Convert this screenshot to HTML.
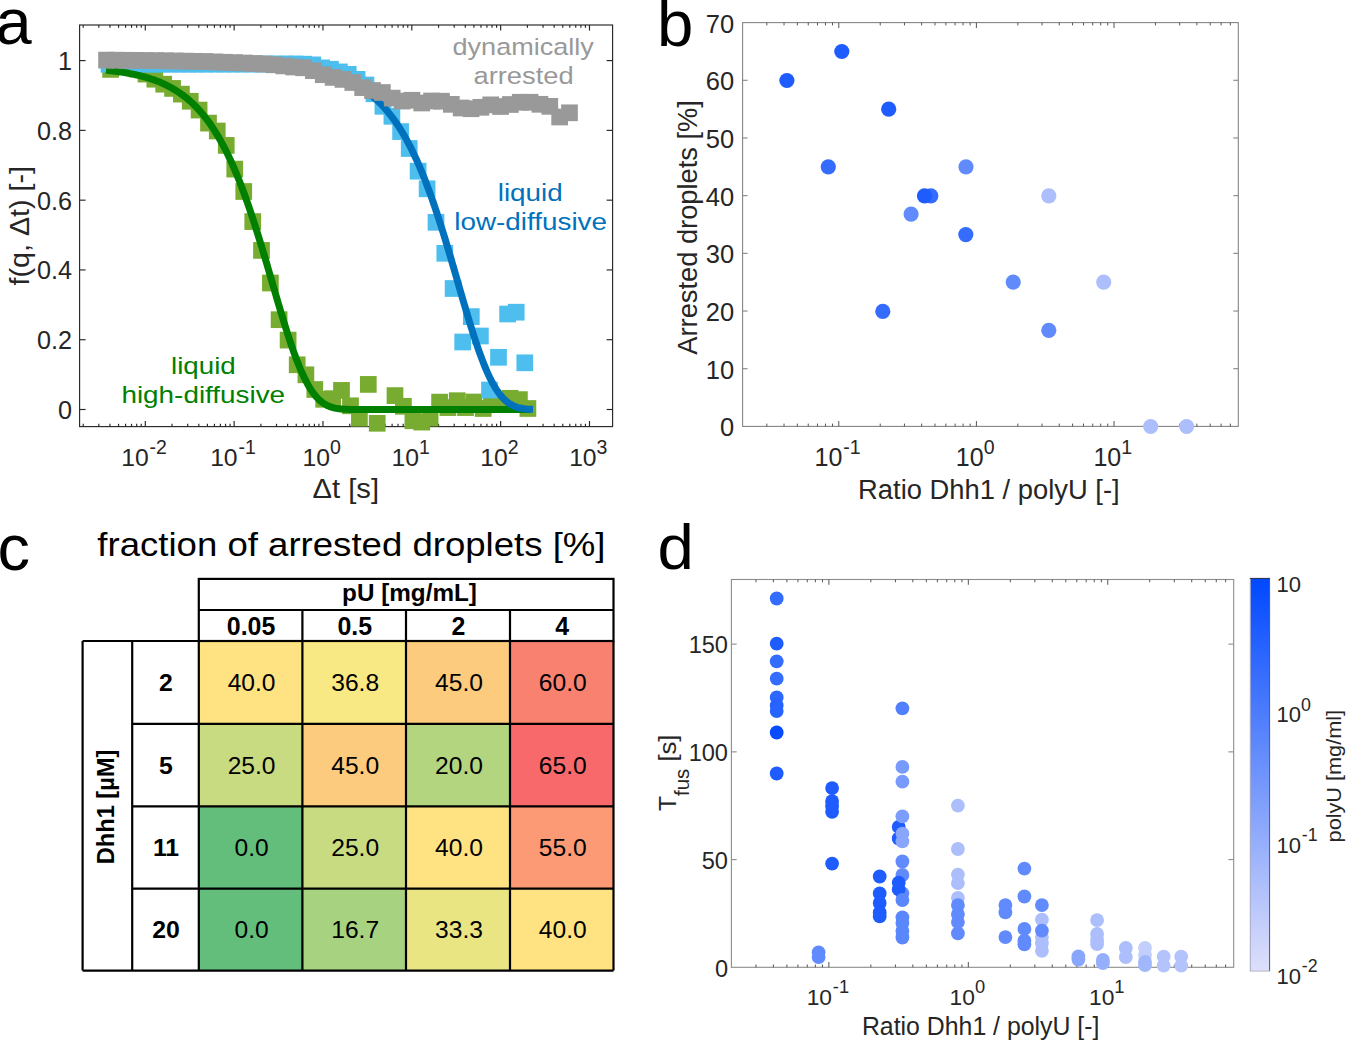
<!DOCTYPE html>
<html><head><meta charset="utf-8"><style>
html,body{margin:0;padding:0;background:#fff;overflow:hidden;}
svg{display:block;font-family:"Liberation Sans", sans-serif;}
</style></head><body>
<svg width="1346" height="1040" viewBox="0 0 1346 1040">
<rect width="1346" height="1040" fill="#fff"/>
<rect x="79.6" y="25" width="533" height="401.6" fill="none" stroke="#262626" stroke-width="1.15"/>
<line x1="83.2" y1="426.6" x2="83.2" y2="423.8" stroke="#262626" stroke-width="1.15"/>
<line x1="83.2" y1="25" x2="83.2" y2="27.8" stroke="#262626" stroke-width="1.15"/>
<line x1="98.85" y1="426.6" x2="98.85" y2="423.8" stroke="#262626" stroke-width="1.15"/>
<line x1="98.85" y1="25" x2="98.85" y2="27.8" stroke="#262626" stroke-width="1.15"/>
<line x1="109.95" y1="426.6" x2="109.95" y2="423.8" stroke="#262626" stroke-width="1.15"/>
<line x1="109.95" y1="25" x2="109.95" y2="27.8" stroke="#262626" stroke-width="1.15"/>
<line x1="118.56" y1="426.6" x2="118.56" y2="423.8" stroke="#262626" stroke-width="1.15"/>
<line x1="118.56" y1="25" x2="118.56" y2="27.8" stroke="#262626" stroke-width="1.15"/>
<line x1="125.59" y1="426.6" x2="125.59" y2="423.8" stroke="#262626" stroke-width="1.15"/>
<line x1="125.59" y1="25" x2="125.59" y2="27.8" stroke="#262626" stroke-width="1.15"/>
<line x1="131.54" y1="426.6" x2="131.54" y2="423.8" stroke="#262626" stroke-width="1.15"/>
<line x1="131.54" y1="25" x2="131.54" y2="27.8" stroke="#262626" stroke-width="1.15"/>
<line x1="136.69" y1="426.6" x2="136.69" y2="423.8" stroke="#262626" stroke-width="1.15"/>
<line x1="136.69" y1="25" x2="136.69" y2="27.8" stroke="#262626" stroke-width="1.15"/>
<line x1="141.23" y1="426.6" x2="141.23" y2="423.8" stroke="#262626" stroke-width="1.15"/>
<line x1="141.23" y1="25" x2="141.23" y2="27.8" stroke="#262626" stroke-width="1.15"/>
<line x1="145.3" y1="426.6" x2="145.3" y2="421" stroke="#262626" stroke-width="1.15"/>
<line x1="145.3" y1="25" x2="145.3" y2="30.6" stroke="#262626" stroke-width="1.15"/>
<line x1="172.04" y1="426.6" x2="172.04" y2="423.8" stroke="#262626" stroke-width="1.15"/>
<line x1="172.04" y1="25" x2="172.04" y2="27.8" stroke="#262626" stroke-width="1.15"/>
<line x1="187.69" y1="426.6" x2="187.69" y2="423.8" stroke="#262626" stroke-width="1.15"/>
<line x1="187.69" y1="25" x2="187.69" y2="27.8" stroke="#262626" stroke-width="1.15"/>
<line x1="198.79" y1="426.6" x2="198.79" y2="423.8" stroke="#262626" stroke-width="1.15"/>
<line x1="198.79" y1="25" x2="198.79" y2="27.8" stroke="#262626" stroke-width="1.15"/>
<line x1="207.4" y1="426.6" x2="207.4" y2="423.8" stroke="#262626" stroke-width="1.15"/>
<line x1="207.4" y1="25" x2="207.4" y2="27.8" stroke="#262626" stroke-width="1.15"/>
<line x1="214.43" y1="426.6" x2="214.43" y2="423.8" stroke="#262626" stroke-width="1.15"/>
<line x1="214.43" y1="25" x2="214.43" y2="27.8" stroke="#262626" stroke-width="1.15"/>
<line x1="220.38" y1="426.6" x2="220.38" y2="423.8" stroke="#262626" stroke-width="1.15"/>
<line x1="220.38" y1="25" x2="220.38" y2="27.8" stroke="#262626" stroke-width="1.15"/>
<line x1="225.53" y1="426.6" x2="225.53" y2="423.8" stroke="#262626" stroke-width="1.15"/>
<line x1="225.53" y1="25" x2="225.53" y2="27.8" stroke="#262626" stroke-width="1.15"/>
<line x1="230.07" y1="426.6" x2="230.07" y2="423.8" stroke="#262626" stroke-width="1.15"/>
<line x1="230.07" y1="25" x2="230.07" y2="27.8" stroke="#262626" stroke-width="1.15"/>
<line x1="234.14" y1="426.6" x2="234.14" y2="421" stroke="#262626" stroke-width="1.15"/>
<line x1="234.14" y1="25" x2="234.14" y2="30.6" stroke="#262626" stroke-width="1.15"/>
<line x1="260.88" y1="426.6" x2="260.88" y2="423.8" stroke="#262626" stroke-width="1.15"/>
<line x1="260.88" y1="25" x2="260.88" y2="27.8" stroke="#262626" stroke-width="1.15"/>
<line x1="276.53" y1="426.6" x2="276.53" y2="423.8" stroke="#262626" stroke-width="1.15"/>
<line x1="276.53" y1="25" x2="276.53" y2="27.8" stroke="#262626" stroke-width="1.15"/>
<line x1="287.63" y1="426.6" x2="287.63" y2="423.8" stroke="#262626" stroke-width="1.15"/>
<line x1="287.63" y1="25" x2="287.63" y2="27.8" stroke="#262626" stroke-width="1.15"/>
<line x1="296.24" y1="426.6" x2="296.24" y2="423.8" stroke="#262626" stroke-width="1.15"/>
<line x1="296.24" y1="25" x2="296.24" y2="27.8" stroke="#262626" stroke-width="1.15"/>
<line x1="303.27" y1="426.6" x2="303.27" y2="423.8" stroke="#262626" stroke-width="1.15"/>
<line x1="303.27" y1="25" x2="303.27" y2="27.8" stroke="#262626" stroke-width="1.15"/>
<line x1="309.22" y1="426.6" x2="309.22" y2="423.8" stroke="#262626" stroke-width="1.15"/>
<line x1="309.22" y1="25" x2="309.22" y2="27.8" stroke="#262626" stroke-width="1.15"/>
<line x1="314.37" y1="426.6" x2="314.37" y2="423.8" stroke="#262626" stroke-width="1.15"/>
<line x1="314.37" y1="25" x2="314.37" y2="27.8" stroke="#262626" stroke-width="1.15"/>
<line x1="318.91" y1="426.6" x2="318.91" y2="423.8" stroke="#262626" stroke-width="1.15"/>
<line x1="318.91" y1="25" x2="318.91" y2="27.8" stroke="#262626" stroke-width="1.15"/>
<line x1="322.98" y1="426.6" x2="322.98" y2="421" stroke="#262626" stroke-width="1.15"/>
<line x1="322.98" y1="25" x2="322.98" y2="30.6" stroke="#262626" stroke-width="1.15"/>
<line x1="349.72" y1="426.6" x2="349.72" y2="423.8" stroke="#262626" stroke-width="1.15"/>
<line x1="349.72" y1="25" x2="349.72" y2="27.8" stroke="#262626" stroke-width="1.15"/>
<line x1="365.37" y1="426.6" x2="365.37" y2="423.8" stroke="#262626" stroke-width="1.15"/>
<line x1="365.37" y1="25" x2="365.37" y2="27.8" stroke="#262626" stroke-width="1.15"/>
<line x1="376.47" y1="426.6" x2="376.47" y2="423.8" stroke="#262626" stroke-width="1.15"/>
<line x1="376.47" y1="25" x2="376.47" y2="27.8" stroke="#262626" stroke-width="1.15"/>
<line x1="385.08" y1="426.6" x2="385.08" y2="423.8" stroke="#262626" stroke-width="1.15"/>
<line x1="385.08" y1="25" x2="385.08" y2="27.8" stroke="#262626" stroke-width="1.15"/>
<line x1="392.11" y1="426.6" x2="392.11" y2="423.8" stroke="#262626" stroke-width="1.15"/>
<line x1="392.11" y1="25" x2="392.11" y2="27.8" stroke="#262626" stroke-width="1.15"/>
<line x1="398.06" y1="426.6" x2="398.06" y2="423.8" stroke="#262626" stroke-width="1.15"/>
<line x1="398.06" y1="25" x2="398.06" y2="27.8" stroke="#262626" stroke-width="1.15"/>
<line x1="403.21" y1="426.6" x2="403.21" y2="423.8" stroke="#262626" stroke-width="1.15"/>
<line x1="403.21" y1="25" x2="403.21" y2="27.8" stroke="#262626" stroke-width="1.15"/>
<line x1="407.75" y1="426.6" x2="407.75" y2="423.8" stroke="#262626" stroke-width="1.15"/>
<line x1="407.75" y1="25" x2="407.75" y2="27.8" stroke="#262626" stroke-width="1.15"/>
<line x1="411.82" y1="426.6" x2="411.82" y2="421" stroke="#262626" stroke-width="1.15"/>
<line x1="411.82" y1="25" x2="411.82" y2="30.6" stroke="#262626" stroke-width="1.15"/>
<line x1="438.56" y1="426.6" x2="438.56" y2="423.8" stroke="#262626" stroke-width="1.15"/>
<line x1="438.56" y1="25" x2="438.56" y2="27.8" stroke="#262626" stroke-width="1.15"/>
<line x1="454.21" y1="426.6" x2="454.21" y2="423.8" stroke="#262626" stroke-width="1.15"/>
<line x1="454.21" y1="25" x2="454.21" y2="27.8" stroke="#262626" stroke-width="1.15"/>
<line x1="465.31" y1="426.6" x2="465.31" y2="423.8" stroke="#262626" stroke-width="1.15"/>
<line x1="465.31" y1="25" x2="465.31" y2="27.8" stroke="#262626" stroke-width="1.15"/>
<line x1="473.92" y1="426.6" x2="473.92" y2="423.8" stroke="#262626" stroke-width="1.15"/>
<line x1="473.92" y1="25" x2="473.92" y2="27.8" stroke="#262626" stroke-width="1.15"/>
<line x1="480.95" y1="426.6" x2="480.95" y2="423.8" stroke="#262626" stroke-width="1.15"/>
<line x1="480.95" y1="25" x2="480.95" y2="27.8" stroke="#262626" stroke-width="1.15"/>
<line x1="486.9" y1="426.6" x2="486.9" y2="423.8" stroke="#262626" stroke-width="1.15"/>
<line x1="486.9" y1="25" x2="486.9" y2="27.8" stroke="#262626" stroke-width="1.15"/>
<line x1="492.05" y1="426.6" x2="492.05" y2="423.8" stroke="#262626" stroke-width="1.15"/>
<line x1="492.05" y1="25" x2="492.05" y2="27.8" stroke="#262626" stroke-width="1.15"/>
<line x1="496.59" y1="426.6" x2="496.59" y2="423.8" stroke="#262626" stroke-width="1.15"/>
<line x1="496.59" y1="25" x2="496.59" y2="27.8" stroke="#262626" stroke-width="1.15"/>
<line x1="500.66" y1="426.6" x2="500.66" y2="421" stroke="#262626" stroke-width="1.15"/>
<line x1="500.66" y1="25" x2="500.66" y2="30.6" stroke="#262626" stroke-width="1.15"/>
<line x1="527.4" y1="426.6" x2="527.4" y2="423.8" stroke="#262626" stroke-width="1.15"/>
<line x1="527.4" y1="25" x2="527.4" y2="27.8" stroke="#262626" stroke-width="1.15"/>
<line x1="543.05" y1="426.6" x2="543.05" y2="423.8" stroke="#262626" stroke-width="1.15"/>
<line x1="543.05" y1="25" x2="543.05" y2="27.8" stroke="#262626" stroke-width="1.15"/>
<line x1="554.15" y1="426.6" x2="554.15" y2="423.8" stroke="#262626" stroke-width="1.15"/>
<line x1="554.15" y1="25" x2="554.15" y2="27.8" stroke="#262626" stroke-width="1.15"/>
<line x1="562.76" y1="426.6" x2="562.76" y2="423.8" stroke="#262626" stroke-width="1.15"/>
<line x1="562.76" y1="25" x2="562.76" y2="27.8" stroke="#262626" stroke-width="1.15"/>
<line x1="569.79" y1="426.6" x2="569.79" y2="423.8" stroke="#262626" stroke-width="1.15"/>
<line x1="569.79" y1="25" x2="569.79" y2="27.8" stroke="#262626" stroke-width="1.15"/>
<line x1="575.74" y1="426.6" x2="575.74" y2="423.8" stroke="#262626" stroke-width="1.15"/>
<line x1="575.74" y1="25" x2="575.74" y2="27.8" stroke="#262626" stroke-width="1.15"/>
<line x1="580.89" y1="426.6" x2="580.89" y2="423.8" stroke="#262626" stroke-width="1.15"/>
<line x1="580.89" y1="25" x2="580.89" y2="27.8" stroke="#262626" stroke-width="1.15"/>
<line x1="585.43" y1="426.6" x2="585.43" y2="423.8" stroke="#262626" stroke-width="1.15"/>
<line x1="585.43" y1="25" x2="585.43" y2="27.8" stroke="#262626" stroke-width="1.15"/>
<line x1="589.5" y1="426.6" x2="589.5" y2="421" stroke="#262626" stroke-width="1.15"/>
<line x1="589.5" y1="25" x2="589.5" y2="30.6" stroke="#262626" stroke-width="1.15"/>
<line x1="79.6" y1="409.5" x2="85.6" y2="409.5" stroke="#262626" stroke-width="1.15"/>
<line x1="612.6" y1="409.5" x2="606.6" y2="409.5" stroke="#262626" stroke-width="1.15"/>
<line x1="79.6" y1="339.72" x2="85.6" y2="339.72" stroke="#262626" stroke-width="1.15"/>
<line x1="612.6" y1="339.72" x2="606.6" y2="339.72" stroke="#262626" stroke-width="1.15"/>
<line x1="79.6" y1="269.94" x2="85.6" y2="269.94" stroke="#262626" stroke-width="1.15"/>
<line x1="612.6" y1="269.94" x2="606.6" y2="269.94" stroke="#262626" stroke-width="1.15"/>
<line x1="79.6" y1="200.16" x2="85.6" y2="200.16" stroke="#262626" stroke-width="1.15"/>
<line x1="612.6" y1="200.16" x2="606.6" y2="200.16" stroke="#262626" stroke-width="1.15"/>
<line x1="79.6" y1="130.38" x2="85.6" y2="130.38" stroke="#262626" stroke-width="1.15"/>
<line x1="612.6" y1="130.38" x2="606.6" y2="130.38" stroke="#262626" stroke-width="1.15"/>
<line x1="79.6" y1="60.6" x2="85.6" y2="60.6" stroke="#262626" stroke-width="1.15"/>
<line x1="612.6" y1="60.6" x2="606.6" y2="60.6" stroke="#262626" stroke-width="1.15"/>
<rect x="742.6" y="22.6" width="495.7" height="403.8" fill="none" stroke="#858585" stroke-width="1.1"/>
<line x1="766.83" y1="426.4" x2="766.83" y2="423.6" stroke="#555" stroke-width="1.0"/>
<line x1="766.83" y1="22.6" x2="766.83" y2="25.4" stroke="#555" stroke-width="1.0"/>
<line x1="784.03" y1="426.4" x2="784.03" y2="423.6" stroke="#555" stroke-width="1.0"/>
<line x1="784.03" y1="22.6" x2="784.03" y2="25.4" stroke="#555" stroke-width="1.0"/>
<line x1="797.36" y1="426.4" x2="797.36" y2="423.6" stroke="#555" stroke-width="1.0"/>
<line x1="797.36" y1="22.6" x2="797.36" y2="25.4" stroke="#555" stroke-width="1.0"/>
<line x1="808.26" y1="426.4" x2="808.26" y2="423.6" stroke="#555" stroke-width="1.0"/>
<line x1="808.26" y1="22.6" x2="808.26" y2="25.4" stroke="#555" stroke-width="1.0"/>
<line x1="817.47" y1="426.4" x2="817.47" y2="423.6" stroke="#555" stroke-width="1.0"/>
<line x1="817.47" y1="22.6" x2="817.47" y2="25.4" stroke="#555" stroke-width="1.0"/>
<line x1="825.45" y1="426.4" x2="825.45" y2="423.6" stroke="#555" stroke-width="1.0"/>
<line x1="825.45" y1="22.6" x2="825.45" y2="25.4" stroke="#555" stroke-width="1.0"/>
<line x1="832.49" y1="426.4" x2="832.49" y2="423.6" stroke="#555" stroke-width="1.0"/>
<line x1="832.49" y1="22.6" x2="832.49" y2="25.4" stroke="#555" stroke-width="1.0"/>
<line x1="838.79" y1="426.4" x2="838.79" y2="421" stroke="#555" stroke-width="1.0"/>
<line x1="838.79" y1="22.6" x2="838.79" y2="28" stroke="#555" stroke-width="1.0"/>
<line x1="880.22" y1="426.4" x2="880.22" y2="423.6" stroke="#555" stroke-width="1.0"/>
<line x1="880.22" y1="22.6" x2="880.22" y2="25.4" stroke="#555" stroke-width="1.0"/>
<line x1="904.45" y1="426.4" x2="904.45" y2="423.6" stroke="#555" stroke-width="1.0"/>
<line x1="904.45" y1="22.6" x2="904.45" y2="25.4" stroke="#555" stroke-width="1.0"/>
<line x1="921.64" y1="426.4" x2="921.64" y2="423.6" stroke="#555" stroke-width="1.0"/>
<line x1="921.64" y1="22.6" x2="921.64" y2="25.4" stroke="#555" stroke-width="1.0"/>
<line x1="934.98" y1="426.4" x2="934.98" y2="423.6" stroke="#555" stroke-width="1.0"/>
<line x1="934.98" y1="22.6" x2="934.98" y2="25.4" stroke="#555" stroke-width="1.0"/>
<line x1="945.88" y1="426.4" x2="945.88" y2="423.6" stroke="#555" stroke-width="1.0"/>
<line x1="945.88" y1="22.6" x2="945.88" y2="25.4" stroke="#555" stroke-width="1.0"/>
<line x1="955.09" y1="426.4" x2="955.09" y2="423.6" stroke="#555" stroke-width="1.0"/>
<line x1="955.09" y1="22.6" x2="955.09" y2="25.4" stroke="#555" stroke-width="1.0"/>
<line x1="963.07" y1="426.4" x2="963.07" y2="423.6" stroke="#555" stroke-width="1.0"/>
<line x1="963.07" y1="22.6" x2="963.07" y2="25.4" stroke="#555" stroke-width="1.0"/>
<line x1="970.11" y1="426.4" x2="970.11" y2="423.6" stroke="#555" stroke-width="1.0"/>
<line x1="970.11" y1="22.6" x2="970.11" y2="25.4" stroke="#555" stroke-width="1.0"/>
<line x1="976.4" y1="426.4" x2="976.4" y2="421" stroke="#555" stroke-width="1.0"/>
<line x1="976.4" y1="22.6" x2="976.4" y2="28" stroke="#555" stroke-width="1.0"/>
<line x1="1017.83" y1="426.4" x2="1017.83" y2="423.6" stroke="#555" stroke-width="1.0"/>
<line x1="1017.83" y1="22.6" x2="1017.83" y2="25.4" stroke="#555" stroke-width="1.0"/>
<line x1="1042.06" y1="426.4" x2="1042.06" y2="423.6" stroke="#555" stroke-width="1.0"/>
<line x1="1042.06" y1="22.6" x2="1042.06" y2="25.4" stroke="#555" stroke-width="1.0"/>
<line x1="1059.26" y1="426.4" x2="1059.26" y2="423.6" stroke="#555" stroke-width="1.0"/>
<line x1="1059.26" y1="22.6" x2="1059.26" y2="25.4" stroke="#555" stroke-width="1.0"/>
<line x1="1072.59" y1="426.4" x2="1072.59" y2="423.6" stroke="#555" stroke-width="1.0"/>
<line x1="1072.59" y1="22.6" x2="1072.59" y2="25.4" stroke="#555" stroke-width="1.0"/>
<line x1="1083.49" y1="426.4" x2="1083.49" y2="423.6" stroke="#555" stroke-width="1.0"/>
<line x1="1083.49" y1="22.6" x2="1083.49" y2="25.4" stroke="#555" stroke-width="1.0"/>
<line x1="1092.7" y1="426.4" x2="1092.7" y2="423.6" stroke="#555" stroke-width="1.0"/>
<line x1="1092.7" y1="22.6" x2="1092.7" y2="25.4" stroke="#555" stroke-width="1.0"/>
<line x1="1100.68" y1="426.4" x2="1100.68" y2="423.6" stroke="#555" stroke-width="1.0"/>
<line x1="1100.68" y1="22.6" x2="1100.68" y2="25.4" stroke="#555" stroke-width="1.0"/>
<line x1="1107.72" y1="426.4" x2="1107.72" y2="423.6" stroke="#555" stroke-width="1.0"/>
<line x1="1107.72" y1="22.6" x2="1107.72" y2="25.4" stroke="#555" stroke-width="1.0"/>
<line x1="1114.02" y1="426.4" x2="1114.02" y2="421" stroke="#555" stroke-width="1.0"/>
<line x1="1114.02" y1="22.6" x2="1114.02" y2="28" stroke="#555" stroke-width="1.0"/>
<line x1="1155.45" y1="426.4" x2="1155.45" y2="423.6" stroke="#555" stroke-width="1.0"/>
<line x1="1155.45" y1="22.6" x2="1155.45" y2="25.4" stroke="#555" stroke-width="1.0"/>
<line x1="1179.68" y1="426.4" x2="1179.68" y2="423.6" stroke="#555" stroke-width="1.0"/>
<line x1="1179.68" y1="22.6" x2="1179.68" y2="25.4" stroke="#555" stroke-width="1.0"/>
<line x1="1196.87" y1="426.4" x2="1196.87" y2="423.6" stroke="#555" stroke-width="1.0"/>
<line x1="1196.87" y1="22.6" x2="1196.87" y2="25.4" stroke="#555" stroke-width="1.0"/>
<line x1="1210.21" y1="426.4" x2="1210.21" y2="423.6" stroke="#555" stroke-width="1.0"/>
<line x1="1210.21" y1="22.6" x2="1210.21" y2="25.4" stroke="#555" stroke-width="1.0"/>
<line x1="1221.11" y1="426.4" x2="1221.11" y2="423.6" stroke="#555" stroke-width="1.0"/>
<line x1="1221.11" y1="22.6" x2="1221.11" y2="25.4" stroke="#555" stroke-width="1.0"/>
<line x1="1230.32" y1="426.4" x2="1230.32" y2="423.6" stroke="#555" stroke-width="1.0"/>
<line x1="1230.32" y1="22.6" x2="1230.32" y2="25.4" stroke="#555" stroke-width="1.0"/>
<line x1="742.6" y1="368.71" x2="747.6" y2="368.71" stroke="#858585" stroke-width="1.1"/>
<line x1="1238.3" y1="368.71" x2="1233.3" y2="368.71" stroke="#858585" stroke-width="1.1"/>
<line x1="742.6" y1="311.03" x2="747.6" y2="311.03" stroke="#858585" stroke-width="1.1"/>
<line x1="1238.3" y1="311.03" x2="1233.3" y2="311.03" stroke="#858585" stroke-width="1.1"/>
<line x1="742.6" y1="253.34" x2="747.6" y2="253.34" stroke="#858585" stroke-width="1.1"/>
<line x1="1238.3" y1="253.34" x2="1233.3" y2="253.34" stroke="#858585" stroke-width="1.1"/>
<line x1="742.6" y1="195.66" x2="747.6" y2="195.66" stroke="#858585" stroke-width="1.1"/>
<line x1="1238.3" y1="195.66" x2="1233.3" y2="195.66" stroke="#858585" stroke-width="1.1"/>
<line x1="742.6" y1="137.97" x2="747.6" y2="137.97" stroke="#858585" stroke-width="1.1"/>
<line x1="1238.3" y1="137.97" x2="1233.3" y2="137.97" stroke="#858585" stroke-width="1.1"/>
<line x1="742.6" y1="80.29" x2="747.6" y2="80.29" stroke="#858585" stroke-width="1.1"/>
<line x1="1238.3" y1="80.29" x2="1233.3" y2="80.29" stroke="#858585" stroke-width="1.1"/>
<rect x="731.4" y="579.5" width="502.3" height="387.8" fill="none" stroke="#8c8c8c" stroke-width="1.1"/>
<line x1="755.96" y1="967.3" x2="755.96" y2="964.5" stroke="#555" stroke-width="1.0"/>
<line x1="755.96" y1="579.5" x2="755.96" y2="582.3" stroke="#555" stroke-width="1.0"/>
<line x1="773.38" y1="967.3" x2="773.38" y2="964.5" stroke="#555" stroke-width="1.0"/>
<line x1="773.38" y1="579.5" x2="773.38" y2="582.3" stroke="#555" stroke-width="1.0"/>
<line x1="786.89" y1="967.3" x2="786.89" y2="964.5" stroke="#555" stroke-width="1.0"/>
<line x1="786.89" y1="579.5" x2="786.89" y2="582.3" stroke="#555" stroke-width="1.0"/>
<line x1="797.93" y1="967.3" x2="797.93" y2="964.5" stroke="#555" stroke-width="1.0"/>
<line x1="797.93" y1="579.5" x2="797.93" y2="582.3" stroke="#555" stroke-width="1.0"/>
<line x1="807.27" y1="967.3" x2="807.27" y2="964.5" stroke="#555" stroke-width="1.0"/>
<line x1="807.27" y1="579.5" x2="807.27" y2="582.3" stroke="#555" stroke-width="1.0"/>
<line x1="815.36" y1="967.3" x2="815.36" y2="964.5" stroke="#555" stroke-width="1.0"/>
<line x1="815.36" y1="579.5" x2="815.36" y2="582.3" stroke="#555" stroke-width="1.0"/>
<line x1="822.49" y1="967.3" x2="822.49" y2="964.5" stroke="#555" stroke-width="1.0"/>
<line x1="822.49" y1="579.5" x2="822.49" y2="582.3" stroke="#555" stroke-width="1.0"/>
<line x1="828.87" y1="967.3" x2="828.87" y2="962" stroke="#555" stroke-width="1.0"/>
<line x1="828.87" y1="579.5" x2="828.87" y2="584.8" stroke="#555" stroke-width="1.0"/>
<line x1="870.85" y1="967.3" x2="870.85" y2="964.5" stroke="#555" stroke-width="1.0"/>
<line x1="870.85" y1="579.5" x2="870.85" y2="582.3" stroke="#555" stroke-width="1.0"/>
<line x1="895.4" y1="967.3" x2="895.4" y2="964.5" stroke="#555" stroke-width="1.0"/>
<line x1="895.4" y1="579.5" x2="895.4" y2="582.3" stroke="#555" stroke-width="1.0"/>
<line x1="912.83" y1="967.3" x2="912.83" y2="964.5" stroke="#555" stroke-width="1.0"/>
<line x1="912.83" y1="579.5" x2="912.83" y2="582.3" stroke="#555" stroke-width="1.0"/>
<line x1="926.34" y1="967.3" x2="926.34" y2="964.5" stroke="#555" stroke-width="1.0"/>
<line x1="926.34" y1="579.5" x2="926.34" y2="582.3" stroke="#555" stroke-width="1.0"/>
<line x1="937.38" y1="967.3" x2="937.38" y2="964.5" stroke="#555" stroke-width="1.0"/>
<line x1="937.38" y1="579.5" x2="937.38" y2="582.3" stroke="#555" stroke-width="1.0"/>
<line x1="946.72" y1="967.3" x2="946.72" y2="964.5" stroke="#555" stroke-width="1.0"/>
<line x1="946.72" y1="579.5" x2="946.72" y2="582.3" stroke="#555" stroke-width="1.0"/>
<line x1="954.8" y1="967.3" x2="954.8" y2="964.5" stroke="#555" stroke-width="1.0"/>
<line x1="954.8" y1="579.5" x2="954.8" y2="582.3" stroke="#555" stroke-width="1.0"/>
<line x1="961.94" y1="967.3" x2="961.94" y2="964.5" stroke="#555" stroke-width="1.0"/>
<line x1="961.94" y1="579.5" x2="961.94" y2="582.3" stroke="#555" stroke-width="1.0"/>
<line x1="968.32" y1="967.3" x2="968.32" y2="962" stroke="#555" stroke-width="1.0"/>
<line x1="968.32" y1="579.5" x2="968.32" y2="584.8" stroke="#555" stroke-width="1.0"/>
<line x1="1010.3" y1="967.3" x2="1010.3" y2="964.5" stroke="#555" stroke-width="1.0"/>
<line x1="1010.3" y1="579.5" x2="1010.3" y2="582.3" stroke="#555" stroke-width="1.0"/>
<line x1="1034.85" y1="967.3" x2="1034.85" y2="964.5" stroke="#555" stroke-width="1.0"/>
<line x1="1034.85" y1="579.5" x2="1034.85" y2="582.3" stroke="#555" stroke-width="1.0"/>
<line x1="1052.27" y1="967.3" x2="1052.27" y2="964.5" stroke="#555" stroke-width="1.0"/>
<line x1="1052.27" y1="579.5" x2="1052.27" y2="582.3" stroke="#555" stroke-width="1.0"/>
<line x1="1065.79" y1="967.3" x2="1065.79" y2="964.5" stroke="#555" stroke-width="1.0"/>
<line x1="1065.79" y1="579.5" x2="1065.79" y2="582.3" stroke="#555" stroke-width="1.0"/>
<line x1="1076.83" y1="967.3" x2="1076.83" y2="964.5" stroke="#555" stroke-width="1.0"/>
<line x1="1076.83" y1="579.5" x2="1076.83" y2="582.3" stroke="#555" stroke-width="1.0"/>
<line x1="1086.17" y1="967.3" x2="1086.17" y2="964.5" stroke="#555" stroke-width="1.0"/>
<line x1="1086.17" y1="579.5" x2="1086.17" y2="582.3" stroke="#555" stroke-width="1.0"/>
<line x1="1094.25" y1="967.3" x2="1094.25" y2="964.5" stroke="#555" stroke-width="1.0"/>
<line x1="1094.25" y1="579.5" x2="1094.25" y2="582.3" stroke="#555" stroke-width="1.0"/>
<line x1="1101.39" y1="967.3" x2="1101.39" y2="964.5" stroke="#555" stroke-width="1.0"/>
<line x1="1101.39" y1="579.5" x2="1101.39" y2="582.3" stroke="#555" stroke-width="1.0"/>
<line x1="1107.77" y1="967.3" x2="1107.77" y2="962" stroke="#555" stroke-width="1.0"/>
<line x1="1107.77" y1="579.5" x2="1107.77" y2="584.8" stroke="#555" stroke-width="1.0"/>
<line x1="1149.74" y1="967.3" x2="1149.74" y2="964.5" stroke="#555" stroke-width="1.0"/>
<line x1="1149.74" y1="579.5" x2="1149.74" y2="582.3" stroke="#555" stroke-width="1.0"/>
<line x1="1174.3" y1="967.3" x2="1174.3" y2="964.5" stroke="#555" stroke-width="1.0"/>
<line x1="1174.3" y1="579.5" x2="1174.3" y2="582.3" stroke="#555" stroke-width="1.0"/>
<line x1="1191.72" y1="967.3" x2="1191.72" y2="964.5" stroke="#555" stroke-width="1.0"/>
<line x1="1191.72" y1="579.5" x2="1191.72" y2="582.3" stroke="#555" stroke-width="1.0"/>
<line x1="1205.24" y1="967.3" x2="1205.24" y2="964.5" stroke="#555" stroke-width="1.0"/>
<line x1="1205.24" y1="579.5" x2="1205.24" y2="582.3" stroke="#555" stroke-width="1.0"/>
<line x1="1216.28" y1="967.3" x2="1216.28" y2="964.5" stroke="#555" stroke-width="1.0"/>
<line x1="1216.28" y1="579.5" x2="1216.28" y2="582.3" stroke="#555" stroke-width="1.0"/>
<line x1="1225.61" y1="967.3" x2="1225.61" y2="964.5" stroke="#555" stroke-width="1.0"/>
<line x1="1225.61" y1="579.5" x2="1225.61" y2="582.3" stroke="#555" stroke-width="1.0"/>
<line x1="731.4" y1="859.58" x2="736.7" y2="859.58" stroke="#8c8c8c" stroke-width="1.1"/>
<line x1="1233.7" y1="859.58" x2="1228.4" y2="859.58" stroke="#8c8c8c" stroke-width="1.1"/>
<line x1="731.4" y1="751.86" x2="736.7" y2="751.86" stroke="#8c8c8c" stroke-width="1.1"/>
<line x1="1233.7" y1="751.86" x2="1228.4" y2="751.86" stroke="#8c8c8c" stroke-width="1.1"/>
<line x1="731.4" y1="644.13" x2="736.7" y2="644.13" stroke="#8c8c8c" stroke-width="1.1"/>
<line x1="1233.7" y1="644.13" x2="1228.4" y2="644.13" stroke="#8c8c8c" stroke-width="1.1"/>
<rect x="102.25" y="61.05" width="16.7" height="16.7" fill="#77ac30"/>
<rect x="111.1" y="57.45" width="16.7" height="16.7" fill="#77ac30"/>
<rect x="119.95" y="57.45" width="16.7" height="16.7" fill="#77ac30"/>
<rect x="128.8" y="60.75" width="16.7" height="16.7" fill="#77ac30"/>
<rect x="137.65" y="65.75" width="16.7" height="16.7" fill="#77ac30"/>
<rect x="146.5" y="70.85" width="16.7" height="16.7" fill="#77ac30"/>
<rect x="155.35" y="75.85" width="16.7" height="16.7" fill="#77ac30"/>
<rect x="164.2" y="80.07" width="16.7" height="16.7" fill="#77ac30"/>
<rect x="173.05" y="85.78" width="16.7" height="16.7" fill="#77ac30"/>
<rect x="181.9" y="92.9" width="16.7" height="16.7" fill="#77ac30"/>
<rect x="190.75" y="101.74" width="16.7" height="16.7" fill="#77ac30"/>
<rect x="200.15" y="114.75" width="16.7" height="16.7" fill="#77ac30"/>
<rect x="208.9" y="122.65" width="16.7" height="16.7" fill="#77ac30"/>
<rect x="217.9" y="137.05" width="16.7" height="16.7" fill="#77ac30"/>
<rect x="226.4" y="160.75" width="16.7" height="16.7" fill="#77ac30"/>
<rect x="235.4" y="183.15" width="16.7" height="16.7" fill="#77ac30"/>
<rect x="244.4" y="213.25" width="16.7" height="16.7" fill="#77ac30"/>
<rect x="253.15" y="242.05" width="16.7" height="16.7" fill="#77ac30"/>
<rect x="262.05" y="274.65" width="16.7" height="16.7" fill="#77ac30"/>
<rect x="270.75" y="311.35" width="16.7" height="16.7" fill="#77ac30"/>
<rect x="279.75" y="331.75" width="16.7" height="16.7" fill="#77ac30"/>
<rect x="288.85" y="356.45" width="16.7" height="16.7" fill="#77ac30"/>
<rect x="297.55" y="366.45" width="16.7" height="16.7" fill="#77ac30"/>
<rect x="306.45" y="381.15" width="16.7" height="16.7" fill="#77ac30"/>
<rect x="315.35" y="390.95" width="16.7" height="16.7" fill="#77ac30"/>
<rect x="324.25" y="390.35" width="16.7" height="16.7" fill="#77ac30"/>
<rect x="333.15" y="382.05" width="16.7" height="16.7" fill="#77ac30"/>
<rect x="342.15" y="397.45" width="16.7" height="16.7" fill="#77ac30"/>
<rect x="351.05" y="409.85" width="16.7" height="16.7" fill="#77ac30"/>
<rect x="359.95" y="376.05" width="16.7" height="16.7" fill="#77ac30"/>
<rect x="368.85" y="414.95" width="16.7" height="16.7" fill="#77ac30"/>
<rect x="386.65" y="387.25" width="16.7" height="16.7" fill="#77ac30"/>
<rect x="395.05" y="397.95" width="16.7" height="16.7" fill="#77ac30"/>
<rect x="404.55" y="412.45" width="16.7" height="16.7" fill="#77ac30"/>
<rect x="413.45" y="413.75" width="16.7" height="16.7" fill="#77ac30"/>
<rect x="421.75" y="409.65" width="16.7" height="16.7" fill="#77ac30"/>
<rect x="431.25" y="393.75" width="16.7" height="16.7" fill="#77ac30"/>
<rect x="439.55" y="399.25" width="16.7" height="16.7" fill="#77ac30"/>
<rect x="448.85" y="392.35" width="16.7" height="16.7" fill="#77ac30"/>
<rect x="457.15" y="399.25" width="16.7" height="16.7" fill="#77ac30"/>
<rect x="465.55" y="393.65" width="16.7" height="16.7" fill="#77ac30"/>
<rect x="474.85" y="400.15" width="16.7" height="16.7" fill="#77ac30"/>
<rect x="483.15" y="393.65" width="16.7" height="16.7" fill="#77ac30"/>
<rect x="492.45" y="394.65" width="16.7" height="16.7" fill="#77ac30"/>
<rect x="501.75" y="389.95" width="16.7" height="16.7" fill="#77ac30"/>
<rect x="511.05" y="391.25" width="16.7" height="16.7" fill="#77ac30"/>
<rect x="519.55" y="400.15" width="16.7" height="16.7" fill="#77ac30"/>
<rect x="100.65" y="55.85" width="16.7" height="16.7" fill="#4dbeee"/>
<rect x="109.51" y="55.84" width="16.7" height="16.7" fill="#4dbeee"/>
<rect x="118.37" y="55.83" width="16.7" height="16.7" fill="#4dbeee"/>
<rect x="127.23" y="55.82" width="16.7" height="16.7" fill="#4dbeee"/>
<rect x="136.09" y="55.81" width="16.7" height="16.7" fill="#4dbeee"/>
<rect x="144.95" y="55.8" width="16.7" height="16.7" fill="#4dbeee"/>
<rect x="153.81" y="55.79" width="16.7" height="16.7" fill="#4dbeee"/>
<rect x="162.67" y="55.78" width="16.7" height="16.7" fill="#4dbeee"/>
<rect x="171.53" y="55.77" width="16.7" height="16.7" fill="#4dbeee"/>
<rect x="180.39" y="55.76" width="16.7" height="16.7" fill="#4dbeee"/>
<rect x="189.25" y="55.76" width="16.7" height="16.7" fill="#4dbeee"/>
<rect x="198.11" y="55.75" width="16.7" height="16.7" fill="#4dbeee"/>
<rect x="206.97" y="55.74" width="16.7" height="16.7" fill="#4dbeee"/>
<rect x="215.83" y="55.73" width="16.7" height="16.7" fill="#4dbeee"/>
<rect x="224.69" y="55.72" width="16.7" height="16.7" fill="#4dbeee"/>
<rect x="233.55" y="55.71" width="16.7" height="16.7" fill="#4dbeee"/>
<rect x="242.41" y="55.7" width="16.7" height="16.7" fill="#4dbeee"/>
<rect x="251.27" y="55.69" width="16.7" height="16.7" fill="#4dbeee"/>
<rect x="260.13" y="55.68" width="16.7" height="16.7" fill="#4dbeee"/>
<rect x="268.99" y="55.67" width="16.7" height="16.7" fill="#4dbeee"/>
<rect x="277.85" y="55.66" width="16.7" height="16.7" fill="#4dbeee"/>
<rect x="286.71" y="55.66" width="16.7" height="16.7" fill="#4dbeee"/>
<rect x="295.57" y="55.82" width="16.7" height="16.7" fill="#4dbeee"/>
<rect x="304.43" y="56.52" width="16.7" height="16.7" fill="#4dbeee"/>
<rect x="313.29" y="59.54" width="16.7" height="16.7" fill="#4dbeee"/>
<rect x="322.15" y="60.92" width="16.7" height="16.7" fill="#4dbeee"/>
<rect x="331.01" y="63.54" width="16.7" height="16.7" fill="#4dbeee"/>
<rect x="339.87" y="65.95" width="16.7" height="16.7" fill="#4dbeee"/>
<rect x="348.73" y="71.01" width="16.7" height="16.7" fill="#4dbeee"/>
<rect x="357.59" y="76.65" width="16.7" height="16.7" fill="#4dbeee"/>
<rect x="365.65" y="85.45" width="16.7" height="16.7" fill="#4dbeee"/>
<rect x="374.55" y="97.95" width="16.7" height="16.7" fill="#4dbeee"/>
<rect x="383.55" y="107.95" width="16.7" height="16.7" fill="#4dbeee"/>
<rect x="392.25" y="123.25" width="16.7" height="16.7" fill="#4dbeee"/>
<rect x="400.85" y="140.15" width="16.7" height="16.7" fill="#4dbeee"/>
<rect x="409.75" y="162.85" width="16.7" height="16.7" fill="#4dbeee"/>
<rect x="418.75" y="180.45" width="16.7" height="16.7" fill="#4dbeee"/>
<rect x="427.65" y="213.95" width="16.7" height="16.7" fill="#4dbeee"/>
<rect x="436.45" y="244.95" width="16.7" height="16.7" fill="#4dbeee"/>
<rect x="444.75" y="280.15" width="16.7" height="16.7" fill="#4dbeee"/>
<rect x="454.35" y="333.65" width="16.7" height="16.7" fill="#4dbeee"/>
<rect x="462.95" y="308.25" width="16.7" height="16.7" fill="#4dbeee"/>
<rect x="472.05" y="327.65" width="16.7" height="16.7" fill="#4dbeee"/>
<rect x="481.15" y="381.65" width="16.7" height="16.7" fill="#4dbeee"/>
<rect x="490.15" y="348.95" width="16.7" height="16.7" fill="#4dbeee"/>
<rect x="499.25" y="305.65" width="16.7" height="16.7" fill="#4dbeee"/>
<rect x="507.85" y="303.85" width="16.7" height="16.7" fill="#4dbeee"/>
<rect x="516.45" y="354.45" width="16.7" height="16.7" fill="#4dbeee"/>
<path d="M106,70.21 L107.41,70.35 L108.83,70.5 L110.24,70.66 L111.65,70.82 L113.07,70.98 L114.48,71.16 L115.89,71.34 L117.31,71.52 L118.72,71.72 L120.13,71.92 L121.55,72.13 L122.96,72.35 L124.37,72.57 L125.79,72.81 L127.2,73.05 L128.61,73.3 L130.03,73.57 L131.44,73.84 L132.85,74.12 L134.27,74.42 L135.68,74.72 L137.09,75.04 L138.51,75.37 L139.92,75.71 L141.33,76.07 L142.75,76.44 L144.16,76.82 L145.57,77.21 L146.99,77.63 L148.4,78.05 L149.81,78.5 L151.23,78.96 L152.64,79.44 L154.05,79.93 L155.47,80.45 L156.88,80.98 L158.29,81.54 L159.71,82.11 L161.12,82.71 L162.53,83.33 L163.95,83.97 L165.36,84.63 L166.77,85.32 L168.19,86.04 L169.6,86.78 L171.01,87.55 L172.43,88.35 L173.84,89.17 L175.25,90.03 L176.67,90.92 L178.08,91.84 L179.49,92.79 L180.91,93.78 L182.32,94.8 L183.73,95.86 L185.15,96.96 L186.56,98.09 L187.97,99.27 L189.39,100.49 L190.8,101.75 L192.21,103.05 L193.63,104.4 L195.04,105.8 L196.45,107.25 L197.87,108.74 L199.28,110.28 L200.69,111.88 L202.11,113.53 L203.52,115.24 L204.93,117 L206.35,118.82 L207.76,120.7 L209.17,122.64 L210.59,124.64 L212,126.71 L213.41,128.84 L214.83,131.04 L216.24,133.3 L217.65,135.64 L219.07,138.04 L220.48,140.52 L221.89,143.07 L223.31,145.7 L224.72,148.4 L226.13,151.18 L227.55,154.03 L228.96,156.96 L230.37,159.98 L231.79,163.07 L233.2,166.24 L234.61,169.5 L236.03,172.84 L237.44,176.25 L238.85,179.75 L240.27,183.33 L241.68,187 L243.09,190.74 L244.51,194.56 L245.92,198.47 L247.33,202.45 L248.75,206.5 L250.16,210.64 L251.57,214.84 L252.99,219.12 L254.4,223.46 L255.81,227.87 L257.23,232.34 L258.64,236.87 L260.05,241.46 L261.47,246.09 L262.88,250.77 L264.29,255.5 L265.71,260.26 L267.12,265.05 L268.53,269.86 L269.95,274.7 L271.36,279.54 L272.77,284.4 L274.19,289.25 L275.6,294.09 L277.01,298.91 L278.43,303.71 L279.84,308.48 L281.25,313.21 L282.67,317.89 L284.08,322.51 L285.49,327.07 L286.91,331.55 L288.32,335.95 L289.73,340.26 L291.15,344.47 L292.56,348.57 L293.97,352.56 L295.39,356.44 L296.8,360.18 L298.21,363.79 L299.63,367.26 L301.04,370.59 L302.45,373.78 L303.87,376.81 L305.28,379.69 L306.69,382.41 L308.11,384.98 L309.52,387.39 L310.93,389.64 L312.35,391.74 L313.76,393.69 L315.17,395.48 L316.59,397.14 L318,398.65 L319.41,400.02 L320.83,401.26 L322.24,402.39 L323.65,403.39 L325.07,404.28 L326.48,405.07 L327.89,405.77 L329.31,406.37 L330.72,406.9 L332.13,407.35 L333.55,407.74 L334.96,408.07 L336.37,408.34 L337.79,408.58 L339.2,408.77 L340.61,408.92 L342.03,409.05 L343.44,409.15 L344.85,409.24 L346.27,409.3 L347.68,409.35 L349.09,409.39 L350.51,409.42 L351.92,409.44 L353.33,409.46 L354.75,409.47 L356.16,409.48 L357.57,409.49 L358.99,409.49 L360.4,409.49 L361.81,409.5 L363.23,409.5 L364.64,409.5 L366.05,409.5 L367.47,409.5 L368.88,409.5 L370.29,409.5 L371.71,409.5 L373.12,409.5 L374.53,409.5 L375.95,409.5 L377.36,409.5 L378.77,409.5 L380.19,409.5 L381.6,409.5 L383.01,409.5 L384.43,409.5 L385.84,409.5 L387.25,409.5 L388.67,409.5 L390.08,409.5 L391.49,409.5 L392.91,409.5 L394.32,409.5 L395.73,409.5 L397.15,409.5 L398.56,409.5 L399.97,409.5 L401.39,409.5 L402.8,409.5 L404.21,409.5 L405.63,409.5 L407.04,409.5 L408.45,409.5 L409.87,409.5 L411.28,409.5 L412.69,409.5 L414.11,409.5 L415.52,409.5 L416.93,409.5 L418.35,409.5 L419.76,409.5 L421.17,409.5 L422.59,409.5 L424,409.5 L425.41,409.5 L426.83,409.5 L428.24,409.5 L429.65,409.5 L431.07,409.5 L432.48,409.5 L433.89,409.5 L435.31,409.5 L436.72,409.5 L438.13,409.5 L439.55,409.5 L440.96,409.5 L442.37,409.5 L443.79,409.5 L445.2,409.5 L446.61,409.5 L448.03,409.5 L449.44,409.5 L450.85,409.5 L452.27,409.5 L453.68,409.5 L455.09,409.5 L456.51,409.5 L457.92,409.5 L459.33,409.5 L460.75,409.5 L462.16,409.5 L463.57,409.5 L464.99,409.5 L466.4,409.5 L467.81,409.5 L469.23,409.5 L470.64,409.5 L472.05,409.5 L473.47,409.5 L474.88,409.5 L476.29,409.5 L477.71,409.5 L479.12,409.5 L480.53,409.5 L481.95,409.5 L483.36,409.5 L484.77,409.5 L486.19,409.5 L487.6,409.5 L489.01,409.5 L490.43,409.5 L491.84,409.5 L493.25,409.5 L494.67,409.5 L496.08,409.5 L497.49,409.5 L498.91,409.5 L500.32,409.5 L501.73,409.5 L503.15,409.5 L504.56,409.5 L505.97,409.5 L507.39,409.5 L508.8,409.5 L510.21,409.5 L511.63,409.5 L513.04,409.5 L514.45,409.5 L515.87,409.5 L517.28,409.5 L518.69,409.5 L520.11,409.5 L521.52,409.5 L522.93,409.5 L524.35,409.5 L525.76,409.5 L527.17,409.5 L528.59,409.5 L530,409.5" fill="none" stroke="#008000" stroke-width="7" stroke-linejoin="round"/>
<path d="M106,64.11 L107.42,64.11 L108.85,64.11 L110.27,64.12 L111.69,64.12 L113.12,64.12 L114.54,64.12 L115.96,64.12 L117.39,64.12 L118.81,64.12 L120.23,64.12 L121.66,64.13 L123.08,64.13 L124.5,64.13 L125.93,64.13 L127.35,64.13 L128.77,64.13 L130.2,64.14 L131.62,64.14 L133.04,64.14 L134.47,64.14 L135.89,64.14 L137.31,64.15 L138.74,64.15 L140.16,64.15 L141.58,64.15 L143.01,64.15 L144.43,64.16 L145.85,64.16 L147.28,64.16 L148.7,64.17 L150.12,64.17 L151.55,64.17 L152.97,64.17 L154.39,64.18 L155.82,64.18 L157.24,64.19 L158.66,64.19 L160.09,64.19 L161.51,64.2 L162.93,64.2 L164.36,64.21 L165.78,64.21 L167.2,64.22 L168.63,64.22 L170.05,64.23 L171.47,64.23 L172.9,64.24 L174.32,64.24 L175.74,64.25 L177.17,64.26 L178.59,64.26 L180.01,64.27 L181.44,64.28 L182.86,64.28 L184.28,64.29 L185.71,64.3 L187.13,64.31 L188.55,64.32 L189.98,64.32 L191.4,64.33 L192.82,64.34 L194.25,64.35 L195.67,64.36 L197.09,64.37 L198.52,64.39 L199.94,64.4 L201.36,64.41 L202.79,64.42 L204.21,64.44 L205.63,64.45 L207.06,64.46 L208.48,64.48 L209.9,64.49 L211.33,64.51 L212.75,64.53 L214.17,64.54 L215.6,64.56 L217.02,64.58 L218.44,64.6 L219.87,64.62 L221.29,64.64 L222.71,64.66 L224.14,64.69 L225.56,64.71 L226.98,64.73 L228.41,64.76 L229.83,64.78 L231.25,64.81 L232.68,64.84 L234.1,64.87 L235.52,64.9 L236.95,64.93 L238.37,64.97 L239.79,65 L241.22,65.04 L242.64,65.07 L244.06,65.11 L245.49,65.15 L246.91,65.2 L248.33,65.24 L249.76,65.28 L251.18,65.33 L252.6,65.38 L254.03,65.43 L255.45,65.48 L256.87,65.54 L258.3,65.6 L259.72,65.66 L261.14,65.72 L262.57,65.78 L263.99,65.85 L265.41,65.92 L266.84,65.99 L268.26,66.07 L269.68,66.14 L271.11,66.22 L272.53,66.31 L273.95,66.4 L275.38,66.49 L276.8,66.58 L278.22,66.68 L279.65,66.78 L281.07,66.89 L282.49,67 L283.92,67.11 L285.34,67.23 L286.76,67.35 L288.19,67.48 L289.61,67.61 L291.03,67.75 L292.46,67.9 L293.88,68.05 L295.3,68.2 L296.73,68.36 L298.15,68.53 L299.57,68.71 L301,68.89 L302.42,69.07 L303.84,69.27 L305.27,69.47 L306.69,69.68 L308.11,69.9 L309.54,70.13 L310.96,70.37 L312.38,70.61 L313.81,70.87 L315.23,71.13 L316.65,71.41 L318.08,71.69 L319.5,71.99 L320.92,72.3 L322.35,72.62 L323.77,72.95 L325.19,73.3 L326.62,73.66 L328.04,74.03 L329.46,74.42 L330.89,74.82 L332.31,75.23 L333.73,75.67 L335.16,76.12 L336.58,76.58 L338,77.07 L339.43,77.57 L340.85,78.09 L342.27,78.63 L343.7,79.19 L345.12,79.78 L346.54,80.38 L347.97,81.01 L349.39,81.66 L350.81,82.33 L352.24,83.03 L353.66,83.76 L355.08,84.51 L356.51,85.3 L357.93,86.11 L359.35,86.95 L360.78,87.82 L362.2,88.72 L363.62,89.66 L365.05,90.63 L366.47,91.63 L367.89,92.67 L369.32,93.75 L370.74,94.87 L372.16,96.03 L373.59,97.23 L375.01,98.47 L376.43,99.75 L377.86,101.08 L379.28,102.46 L380.7,103.88 L382.13,105.36 L383.55,106.88 L384.97,108.46 L386.4,110.09 L387.82,111.77 L389.24,113.52 L390.67,115.32 L392.09,117.17 L393.51,119.09 L394.94,121.08 L396.36,123.12 L397.78,125.24 L399.21,127.42 L400.63,129.66 L402.05,131.98 L403.48,134.37 L404.9,136.83 L406.32,139.36 L407.75,141.97 L409.17,144.66 L410.59,147.42 L412.02,150.27 L413.44,153.19 L414.86,156.19 L416.29,159.27 L417.71,162.44 L419.13,165.69 L420.56,169.02 L421.98,172.43 L423.4,175.93 L424.83,179.51 L426.25,183.18 L427.67,186.93 L429.1,190.76 L430.52,194.67 L431.94,198.66 L433.37,202.73 L434.79,206.88 L436.21,211.1 L437.64,215.4 L439.06,219.77 L440.48,224.2 L441.91,228.71 L443.33,233.27 L444.75,237.89 L446.18,242.57 L447.6,247.29 L449.02,252.06 L450.45,256.87 L451.87,261.72 L453.29,266.59 L454.72,271.49 L456.14,276.4 L457.56,281.32 L458.99,286.24 L460.41,291.16 L461.83,296.06 L463.26,300.94 L464.68,305.79 L466.1,310.6 L467.53,315.37 L468.95,320.08 L470.37,324.73 L471.8,329.3 L473.22,333.8 L474.64,338.2 L476.07,342.51 L477.49,346.71 L478.91,350.8 L480.34,354.77 L481.76,358.61 L483.18,362.32 L484.61,365.88 L486.03,369.31 L487.45,372.58 L488.88,375.7 L490.3,378.67 L491.72,381.47 L493.15,384.12 L494.57,386.61 L495.99,388.93 L497.42,391.1 L498.84,393.11 L500.26,394.97 L501.69,396.68 L503.11,398.24 L504.53,399.67 L505.96,400.96 L507.38,402.12 L508.8,403.16 L510.23,404.08 L511.65,404.9 L513.07,405.63 L514.5,406.26 L515.92,406.8 L517.34,407.27 L518.77,407.67 L520.19,408.02 L521.61,408.3 L523.04,408.54 L524.46,408.74 L525.88,408.9 L527.31,409.04 L528.73,409.14 L530.15,409.23 L531.58,409.3 L533,409.35" fill="none" stroke="#0072bd" stroke-width="7" stroke-linejoin="round"/>
<rect x="98.2" y="51.75" width="16.7" height="16.7" fill="#999999"/>
<rect x="108.05" y="51.85" width="16.7" height="16.7" fill="#999999"/>
<rect x="117.9" y="51.95" width="16.7" height="16.7" fill="#999999"/>
<rect x="127.75" y="52.05" width="16.7" height="16.7" fill="#999999"/>
<rect x="137.6" y="52.15" width="16.7" height="16.7" fill="#999999"/>
<rect x="147.45" y="52.25" width="16.7" height="16.7" fill="#999999"/>
<rect x="157.3" y="52.43" width="16.7" height="16.7" fill="#999999"/>
<rect x="167.15" y="52.61" width="16.7" height="16.7" fill="#999999"/>
<rect x="177" y="52.79" width="16.7" height="16.7" fill="#999999"/>
<rect x="186.85" y="52.97" width="16.7" height="16.7" fill="#999999"/>
<rect x="196.7" y="53.15" width="16.7" height="16.7" fill="#999999"/>
<rect x="206.55" y="53.52" width="16.7" height="16.7" fill="#999999"/>
<rect x="216.4" y="53.9" width="16.7" height="16.7" fill="#999999"/>
<rect x="226.25" y="54.27" width="16.7" height="16.7" fill="#999999"/>
<rect x="236.1" y="54.65" width="16.7" height="16.7" fill="#999999"/>
<rect x="245.95" y="55.15" width="16.7" height="16.7" fill="#999999"/>
<rect x="255.8" y="55.65" width="16.7" height="16.7" fill="#999999"/>
<rect x="265.65" y="56.45" width="16.7" height="16.7" fill="#999999"/>
<rect x="275.5" y="57.55" width="16.7" height="16.7" fill="#999999"/>
<rect x="285.35" y="58.65" width="16.7" height="16.7" fill="#999999"/>
<rect x="295.2" y="59.45" width="16.7" height="16.7" fill="#999999"/>
<rect x="305.05" y="62.35" width="16.7" height="16.7" fill="#999999"/>
<rect x="314.9" y="66.35" width="16.7" height="16.7" fill="#999999"/>
<rect x="324.75" y="69.05" width="16.7" height="16.7" fill="#999999"/>
<rect x="334.6" y="71.05" width="16.7" height="16.7" fill="#999999"/>
<rect x="344.45" y="74.15" width="16.7" height="16.7" fill="#999999"/>
<rect x="354.3" y="79.25" width="16.7" height="16.7" fill="#999999"/>
<rect x="364.15" y="82.15" width="16.7" height="16.7" fill="#999999"/>
<rect x="374" y="84.15" width="16.7" height="16.7" fill="#999999"/>
<rect x="383.85" y="89.75" width="16.7" height="16.7" fill="#999999"/>
<rect x="393.7" y="92.75" width="16.7" height="16.7" fill="#999999"/>
<rect x="403.55" y="91.9" width="16.7" height="16.7" fill="#999999"/>
<rect x="413.4" y="94.65" width="16.7" height="16.7" fill="#999999"/>
<rect x="423.25" y="92.65" width="16.7" height="16.7" fill="#999999"/>
<rect x="433.1" y="92.85" width="16.7" height="16.7" fill="#999999"/>
<rect x="442.95" y="96" width="16.7" height="16.7" fill="#999999"/>
<rect x="452.8" y="99.65" width="16.7" height="16.7" fill="#999999"/>
<rect x="462.65" y="100.4" width="16.7" height="16.7" fill="#999999"/>
<rect x="472.5" y="98.95" width="16.7" height="16.7" fill="#999999"/>
<rect x="482.35" y="96.5" width="16.7" height="16.7" fill="#999999"/>
<rect x="492.2" y="98.15" width="16.7" height="16.7" fill="#999999"/>
<rect x="502.05" y="96.15" width="16.7" height="16.7" fill="#999999"/>
<rect x="511.9" y="93.9" width="16.7" height="16.7" fill="#999999"/>
<rect x="521.75" y="93.9" width="16.7" height="16.7" fill="#999999"/>
<rect x="531.6" y="95.95" width="16.7" height="16.7" fill="#999999"/>
<rect x="541.45" y="98" width="16.7" height="16.7" fill="#999999"/>
<rect x="551.3" y="108.65" width="16.7" height="16.7" fill="#999999"/>
<rect x="561.15" y="104.45" width="16.7" height="16.7" fill="#999999"/>
<text x="72" y="419" font-size="25.2" text-anchor="end" fill="#262626" font-weight="normal">0</text>
<text x="72" y="349.22" font-size="25.2" text-anchor="end" fill="#262626" font-weight="normal">0.2</text>
<text x="72" y="279.44" font-size="25.2" text-anchor="end" fill="#262626" font-weight="normal">0.4</text>
<text x="72" y="209.66" font-size="25.2" text-anchor="end" fill="#262626" font-weight="normal">0.6</text>
<text x="72" y="139.88" font-size="25.2" text-anchor="end" fill="#262626" font-weight="normal">0.8</text>
<text x="72" y="70.1" font-size="25.2" text-anchor="end" fill="#262626" font-weight="normal">1</text>
<text x="144.1" y="466.4" font-size="24.7" text-anchor="middle" fill="#262626">10<tspan dy="-12.4" dx="0.8" font-size="19.5">-2</tspan></text>
<text x="232.94" y="466.4" font-size="24.7" text-anchor="middle" fill="#262626">10<tspan dy="-12.4" dx="0.8" font-size="19.5">-1</tspan></text>
<text x="321.78" y="466.4" font-size="24.7" text-anchor="middle" fill="#262626">10<tspan dy="-12.4" font-size="19.5">0</tspan></text>
<text x="410.62" y="466.4" font-size="24.7" text-anchor="middle" fill="#262626">10<tspan dy="-12.4" font-size="19.5">1</tspan></text>
<text x="499.46" y="466.4" font-size="24.7" text-anchor="middle" fill="#262626">10<tspan dy="-12.4" font-size="19.5">2</tspan></text>
<text x="588.3" y="466.4" font-size="24.7" text-anchor="middle" fill="#262626">10<tspan dy="-12.4" font-size="19.5">3</tspan></text>
<text x="312.42" y="498.4" font-size="26.9" font-weight="normal" fill="#262626" textLength="66.6" lengthAdjust="spacingAndGlyphs">Δt [s]</text>
<text transform="translate(28.6,285.43) rotate(-90)" x="0" y="0" font-size="28.14" font-weight="normal" fill="#262626" textLength="119.52" lengthAdjust="spacingAndGlyphs">f(q, Δt) [-]</text>
<text x="452.52" y="54.8" font-size="23.86" font-weight="normal" fill="#999999" textLength="141.39" lengthAdjust="spacingAndGlyphs">dynamically</text>
<text x="473.47" y="84.2" font-size="23.45" font-weight="normal" fill="#999999" textLength="100.27" lengthAdjust="spacingAndGlyphs">arrested</text>
<text x="497.69" y="200.5" font-size="24.55" font-weight="normal" fill="#0072bd" textLength="65.13" lengthAdjust="spacingAndGlyphs">liquid</text>
<text x="454.19" y="230.2" font-size="24.41" font-weight="normal" fill="#0072bd" textLength="152.84" lengthAdjust="spacingAndGlyphs">low-diffusive</text>
<text x="171" y="373.9" font-size="24.28" font-weight="normal" fill="#008000" textLength="64.81" lengthAdjust="spacingAndGlyphs">liquid</text>
<text x="121.45" y="403.3" font-size="24" font-weight="normal" fill="#008000" textLength="163.68" lengthAdjust="spacingAndGlyphs">high-diffusive</text>
<text x="-4.5" y="44.3" font-size="65" text-anchor="start" fill="#000" font-weight="normal">a</text>
<text x="657.05" y="45.5" font-size="64.83" font-weight="normal" fill="#000" textLength="36.34" lengthAdjust="spacingAndGlyphs">b</text>
<text x="-2.5" y="569.8" font-size="65" text-anchor="start" fill="#000" font-weight="normal">c</text>
<text x="657.49" y="569" font-size="63.45" font-weight="normal" fill="#000" textLength="36.34" lengthAdjust="spacingAndGlyphs">d</text>
<text x="734.2" y="436.3" font-size="25.5" text-anchor="end" fill="#262626" font-weight="normal">0</text>
<text x="734.2" y="378.61" font-size="25.5" text-anchor="end" fill="#262626" font-weight="normal">10</text>
<text x="734.2" y="320.93" font-size="25.5" text-anchor="end" fill="#262626" font-weight="normal">20</text>
<text x="734.2" y="263.24" font-size="25.5" text-anchor="end" fill="#262626" font-weight="normal">30</text>
<text x="734.2" y="205.56" font-size="25.5" text-anchor="end" fill="#262626" font-weight="normal">40</text>
<text x="734.2" y="147.87" font-size="25.5" text-anchor="end" fill="#262626" font-weight="normal">50</text>
<text x="734.2" y="90.19" font-size="25.5" text-anchor="end" fill="#262626" font-weight="normal">60</text>
<text x="734.2" y="32.5" font-size="25.5" text-anchor="end" fill="#262626" font-weight="normal">70</text>
<text x="837.59" y="466" font-size="25" text-anchor="middle" fill="#262626">10<tspan dy="-12.4" dx="0.8" font-size="19.5">-1</tspan></text>
<text x="975.2" y="466" font-size="25" text-anchor="middle" fill="#262626">10<tspan dy="-12.4" font-size="19.5">0</tspan></text>
<text x="1112.82" y="466" font-size="25" text-anchor="middle" fill="#262626">10<tspan dy="-12.4" font-size="19.5">1</tspan></text>
<text x="858.11" y="499" font-size="27.72" font-weight="normal" fill="#262626" textLength="261.49" lengthAdjust="spacingAndGlyphs">Ratio Dhh1 / polyU [-]</text>
<text transform="translate(697.1,354.64) rotate(-90)" x="0" y="0" font-size="27.45" font-weight="normal" fill="#262626" textLength="254.51" lengthAdjust="spacingAndGlyphs">Arrested droplets [%]</text>
<circle cx="1048.8" cy="195.8" r="7.6" fill="#acbefb"/>
<circle cx="1103.7" cy="282.1" r="7.6" fill="#acbefb"/>
<circle cx="1150.7" cy="426.5" r="7.6" fill="#acbefb"/>
<circle cx="1186.6" cy="426.5" r="7.6" fill="#acbefb"/>
<circle cx="911.1" cy="214.1" r="7.6" fill="#618bfd"/>
<circle cx="966" cy="166.8" r="7.6" fill="#618bfd"/>
<circle cx="1013.2" cy="282.1" r="7.6" fill="#618bfd"/>
<circle cx="1048.8" cy="330.3" r="7.6" fill="#618bfd"/>
<circle cx="828.3" cy="166.8" r="7.6" fill="#346cfe"/>
<circle cx="882.8" cy="311.4" r="7.6" fill="#346cfe"/>
<circle cx="930.8" cy="195.8" r="7.6" fill="#346cfe"/>
<circle cx="965.8" cy="234.6" r="7.6" fill="#346cfe"/>
<circle cx="786.9" cy="80.5" r="7.6" fill="#1e5cfe"/>
<circle cx="841.8" cy="51.5" r="7.6" fill="#1e5cfe"/>
<circle cx="888.7" cy="109.2" r="7.6" fill="#1e5cfe"/>
<circle cx="924.5" cy="195.8" r="7.6" fill="#1e5cfe"/>
<rect x="198.8" y="641" width="103.6" height="82.9" fill="#ffe382"/>
<text x="251.6" y="691.25" font-size="24.6" text-anchor="middle" fill="#000" font-weight="normal">40.0</text>
<rect x="302.4" y="641" width="103.6" height="82.9" fill="#f8e984"/>
<text x="355.2" y="691.25" font-size="24.6" text-anchor="middle" fill="#000" font-weight="normal">36.8</text>
<rect x="406" y="641" width="104" height="82.9" fill="#fdcb7e"/>
<text x="459" y="691.25" font-size="24.6" text-anchor="middle" fill="#000" font-weight="normal">45.0</text>
<rect x="510" y="641" width="103.5" height="82.9" fill="#f98170"/>
<text x="562.75" y="691.25" font-size="24.6" text-anchor="middle" fill="#000" font-weight="normal">60.0</text>
<rect x="198.8" y="723.9" width="103.6" height="82.5" fill="#c9db81"/>
<text x="251.6" y="773.95" font-size="24.6" text-anchor="middle" fill="#000" font-weight="normal">25.0</text>
<rect x="302.4" y="723.9" width="103.6" height="82.5" fill="#fdcb7e"/>
<text x="355.2" y="773.95" font-size="24.6" text-anchor="middle" fill="#000" font-weight="normal">45.0</text>
<rect x="406" y="723.9" width="104" height="82.5" fill="#b4d580"/>
<text x="459" y="773.95" font-size="24.6" text-anchor="middle" fill="#000" font-weight="normal">20.0</text>
<rect x="510" y="723.9" width="103.5" height="82.5" fill="#f8696b"/>
<text x="562.75" y="773.95" font-size="24.6" text-anchor="middle" fill="#000" font-weight="normal">65.0</text>
<rect x="198.8" y="806.4" width="103.6" height="82.3" fill="#63be7b"/>
<text x="251.6" y="856.35" font-size="24.6" text-anchor="middle" fill="#000" font-weight="normal">0.0</text>
<rect x="302.4" y="806.4" width="103.6" height="82.3" fill="#c9db81"/>
<text x="355.2" y="856.35" font-size="24.6" text-anchor="middle" fill="#000" font-weight="normal">25.0</text>
<rect x="406" y="806.4" width="104" height="82.3" fill="#ffe382"/>
<text x="459" y="856.35" font-size="24.6" text-anchor="middle" fill="#000" font-weight="normal">40.0</text>
<rect x="510" y="806.4" width="103.5" height="82.3" fill="#fb9a74"/>
<text x="562.75" y="856.35" font-size="24.6" text-anchor="middle" fill="#000" font-weight="normal">55.0</text>
<rect x="198.8" y="888.7" width="103.6" height="81.9" fill="#63be7b"/>
<text x="251.6" y="938.45" font-size="24.6" text-anchor="middle" fill="#000" font-weight="normal">0.0</text>
<rect x="302.4" y="888.7" width="103.6" height="81.9" fill="#a7d27f"/>
<text x="355.2" y="938.45" font-size="24.6" text-anchor="middle" fill="#000" font-weight="normal">16.7</text>
<rect x="406" y="888.7" width="104" height="81.9" fill="#eae583"/>
<text x="459" y="938.45" font-size="24.6" text-anchor="middle" fill="#000" font-weight="normal">33.3</text>
<rect x="510" y="888.7" width="103.5" height="81.9" fill="#ffe382"/>
<text x="562.75" y="938.45" font-size="24.6" text-anchor="middle" fill="#000" font-weight="normal">40.0</text>
<rect x="198.8" y="578.9" width="414.7" height="62.1" fill="none" stroke="#000" stroke-width="2.2"/>
<line x1="198.8" y1="610" x2="613.5" y2="610" stroke="#000" stroke-width="2.2"/>
<line x1="302.4" y1="610" x2="302.4" y2="970.6" stroke="#000" stroke-width="2.2"/>
<line x1="406" y1="610" x2="406" y2="970.6" stroke="#000" stroke-width="2.2"/>
<line x1="510" y1="610" x2="510" y2="970.6" stroke="#000" stroke-width="2.2"/>
<line x1="82.6" y1="641" x2="613.5" y2="641" stroke="#000" stroke-width="2.2"/>
<line x1="132.2" y1="723.9" x2="613.5" y2="723.9" stroke="#000" stroke-width="2.2"/>
<line x1="132.2" y1="806.4" x2="613.5" y2="806.4" stroke="#000" stroke-width="2.2"/>
<line x1="132.2" y1="888.7" x2="613.5" y2="888.7" stroke="#000" stroke-width="2.2"/>
<line x1="82.6" y1="970.6" x2="613.5" y2="970.6" stroke="#000" stroke-width="2.2"/>
<line x1="82.6" y1="641" x2="82.6" y2="970.6" stroke="#000" stroke-width="2.2"/>
<line x1="132.2" y1="641" x2="132.2" y2="970.6" stroke="#000" stroke-width="2.2"/>
<line x1="198.8" y1="641" x2="198.8" y2="970.6" stroke="#000" stroke-width="2.2"/>
<line x1="613.5" y1="641" x2="613.5" y2="970.6" stroke="#000" stroke-width="2.2"/>
<text x="342.12" y="601.2" font-size="23.86" font-weight="bold" fill="#000" textLength="134.8" lengthAdjust="spacingAndGlyphs">pU [mg/mL]</text>
<text x="251.1" y="634.5" font-size="24.9" text-anchor="middle" fill="#000" font-weight="bold">0.05</text>
<text x="354.7" y="634.5" font-size="24.9" text-anchor="middle" fill="#000" font-weight="bold">0.5</text>
<text x="458.5" y="634.5" font-size="24.9" text-anchor="middle" fill="#000" font-weight="bold">2</text>
<text x="562.25" y="634.5" font-size="24.9" text-anchor="middle" fill="#000" font-weight="bold">4</text>
<text x="166" y="691.25" font-size="24.8" text-anchor="middle" fill="#000" font-weight="bold">2</text>
<text x="166" y="773.95" font-size="24.8" text-anchor="middle" fill="#000" font-weight="bold">5</text>
<text x="166" y="856.35" font-size="24.8" text-anchor="middle" fill="#000" font-weight="bold">11</text>
<text x="166" y="938.45" font-size="24.8" text-anchor="middle" fill="#000" font-weight="bold">20</text>
<text transform="translate(113.9,864.34) rotate(-90)" x="0" y="0" font-size="24.83" font-weight="bold" fill="#000" textLength="114.81" lengthAdjust="spacingAndGlyphs">Dhh1 [µM]</text>
<text x="97.35" y="556.4" font-size="33.66" font-weight="normal" fill="#000" textLength="508.13" lengthAdjust="spacingAndGlyphs">fraction of arrested droplets [%]</text>
<text x="728" y="976.5" font-size="23.6" text-anchor="end" fill="#262626" font-weight="normal">0</text>
<text x="728" y="868.78" font-size="23.6" text-anchor="end" fill="#262626" font-weight="normal">50</text>
<text x="728" y="761.06" font-size="23.6" text-anchor="end" fill="#262626" font-weight="normal">100</text>
<text x="728" y="653.33" font-size="23.6" text-anchor="end" fill="#262626" font-weight="normal">150</text>
<text x="827.87" y="1004.6" font-size="22.8" text-anchor="middle" fill="#262626">10<tspan dy="-11.5" dx="0.8" font-size="18.3">-1</tspan></text>
<text x="967.32" y="1004.6" font-size="22.8" text-anchor="middle" fill="#262626">10<tspan dy="-11.5" font-size="18.3">0</tspan></text>
<text x="1106.77" y="1004.6" font-size="22.8" text-anchor="middle" fill="#262626">10<tspan dy="-11.5" font-size="18.3">1</tspan></text>
<text x="861.91" y="1034.7" font-size="25.79" font-weight="normal" fill="#262626" textLength="237.52" lengthAdjust="spacingAndGlyphs">Ratio Dhh1 / polyU [-]</text>
<text transform="translate(676.0,811.0) rotate(-90)" x="0" y="0" font-size="24.5" fill="#262626">T<tspan dy="12.5" font-size="20.4">fus</tspan></text>
<text transform="translate(676,761.6) rotate(-90)" x="0" y="0" font-size="24.55" font-weight="normal" fill="#262626" textLength="27.11" lengthAdjust="spacingAndGlyphs">[s]</text>
<circle cx="776.7" cy="598.5" r="6.9" fill="#346cfe"/>
<circle cx="776.7" cy="643.7" r="6.9" fill="#1e5cfe"/>
<circle cx="776.7" cy="661.3" r="6.9" fill="#346cfe"/>
<circle cx="776.7" cy="678.7" r="6.9" fill="#346cfe"/>
<circle cx="776.7" cy="697.5" r="6.9" fill="#2d67fe"/>
<circle cx="776.7" cy="705.5" r="6.9" fill="#2763fe"/>
<circle cx="776.7" cy="711" r="6.9" fill="#2763fe"/>
<circle cx="776.7" cy="732.5" r="6.9" fill="#074dff"/>
<circle cx="776.7" cy="773.5" r="6.9" fill="#1e5cfe"/>
<circle cx="818.6" cy="952.5" r="6.9" fill="#618bfd"/>
<circle cx="818.6" cy="957.1" r="6.9" fill="#618bfd"/>
<circle cx="832.1" cy="788.1" r="6.9" fill="#1e5cfe"/>
<circle cx="832.1" cy="801.2" r="6.9" fill="#1e5cfe"/>
<circle cx="832.1" cy="806.5" r="6.9" fill="#1e5cfe"/>
<circle cx="832.1" cy="811.8" r="6.9" fill="#1e5cfe"/>
<circle cx="832.1" cy="863.6" r="6.9" fill="#1e5cfe"/>
<circle cx="879.7" cy="876.5" r="6.9" fill="#1e5cfe"/>
<circle cx="879.7" cy="893.5" r="6.9" fill="#1e5cfe"/>
<circle cx="879.7" cy="903" r="6.9" fill="#1e5cfe"/>
<circle cx="879.7" cy="912.4" r="6.9" fill="#1e5cfe"/>
<circle cx="879.7" cy="916.4" r="6.9" fill="#1e5cfe"/>
<circle cx="898.7" cy="826.9" r="6.9" fill="#1e5cfe"/>
<circle cx="898.7" cy="838.5" r="6.9" fill="#1e5cfe"/>
<circle cx="902.4" cy="708.3" r="6.9" fill="#5280fd"/>
<circle cx="902.4" cy="766.9" r="6.9" fill="#789afc"/>
<circle cx="902.4" cy="781.7" r="6.9" fill="#789afc"/>
<circle cx="902.4" cy="816.3" r="6.9" fill="#7c9dfc"/>
<circle cx="902.4" cy="833.7" r="6.9" fill="#88a6fc"/>
<circle cx="902.4" cy="841.3" r="6.9" fill="#88a6fc"/>
<circle cx="902.4" cy="861.5" r="6.9" fill="#618bfd"/>
<circle cx="902.4" cy="875" r="6.9" fill="#618bfd"/>
<circle cx="902.4" cy="893.3" r="6.9" fill="#618bfd"/>
<circle cx="898.7" cy="882.7" r="6.9" fill="#1e5cfe"/>
<circle cx="898.7" cy="889.4" r="6.9" fill="#1e5cfe"/>
<circle cx="902.4" cy="900" r="6.9" fill="#5b87fd"/>
<circle cx="902.4" cy="917.3" r="6.9" fill="#5b87fd"/>
<circle cx="902.4" cy="923" r="6.9" fill="#5b87fd"/>
<circle cx="902.4" cy="931" r="6.9" fill="#5b87fd"/>
<circle cx="902.4" cy="937.5" r="6.9" fill="#5b87fd"/>
<circle cx="957.9" cy="805.6" r="6.9" fill="#acbefb"/>
<circle cx="957.9" cy="849" r="6.9" fill="#acbefb"/>
<circle cx="957.9" cy="874.6" r="6.9" fill="#acbefb"/>
<circle cx="957.9" cy="883.2" r="6.9" fill="#acbefb"/>
<circle cx="957.9" cy="897.8" r="6.9" fill="#acbefb"/>
<circle cx="957.9" cy="905.1" r="6.9" fill="#618bfd"/>
<circle cx="957.9" cy="914.2" r="6.9" fill="#618bfd"/>
<circle cx="957.9" cy="922.1" r="6.9" fill="#618bfd"/>
<circle cx="957.9" cy="933.4" r="6.9" fill="#618bfd"/>
<circle cx="1005.4" cy="905.1" r="6.9" fill="#618bfd"/>
<circle cx="1005.4" cy="912.4" r="6.9" fill="#618bfd"/>
<circle cx="1005.4" cy="937.1" r="6.9" fill="#618bfd"/>
<circle cx="1024.4" cy="868.6" r="6.9" fill="#618bfd"/>
<circle cx="1024.4" cy="896.5" r="6.9" fill="#618bfd"/>
<circle cx="1024.4" cy="928.9" r="6.9" fill="#618bfd"/>
<circle cx="1024.4" cy="940.7" r="6.9" fill="#618bfd"/>
<circle cx="1024.4" cy="944.4" r="6.9" fill="#618bfd"/>
<circle cx="1041.9" cy="919.7" r="6.9" fill="#acbefb"/>
<circle cx="1041.9" cy="937.1" r="6.9" fill="#acbefb"/>
<circle cx="1041.9" cy="943.5" r="6.9" fill="#acbefb"/>
<circle cx="1041.9" cy="950.8" r="6.9" fill="#acbefb"/>
<circle cx="1041.9" cy="905.1" r="6.9" fill="#618bfd"/>
<circle cx="1041.9" cy="930.7" r="6.9" fill="#618bfd"/>
<circle cx="1078.4" cy="956.5" r="6.9" fill="#88a6fc"/>
<circle cx="1078.4" cy="959.5" r="6.9" fill="#88a6fc"/>
<circle cx="1097.1" cy="920.1" r="6.9" fill="#acbefb"/>
<circle cx="1097.1" cy="934" r="6.9" fill="#acbefb"/>
<circle cx="1097.1" cy="940" r="6.9" fill="#acbefb"/>
<circle cx="1097.1" cy="944" r="6.9" fill="#acbefb"/>
<circle cx="1102.9" cy="960" r="6.9" fill="#95affc"/>
<circle cx="1102.9" cy="963" r="6.9" fill="#95affc"/>
<circle cx="1125.8" cy="948" r="6.9" fill="#acbefb"/>
<circle cx="1125.8" cy="957" r="6.9" fill="#acbefb"/>
<circle cx="1145" cy="948" r="6.9" fill="#c2cefb"/>
<circle cx="1145" cy="955" r="6.9" fill="#c2cefb"/>
<circle cx="1145" cy="962" r="6.9" fill="#a1b7fb"/>
<circle cx="1145" cy="965" r="6.9" fill="#a1b7fb"/>
<circle cx="1163.7" cy="956.6" r="6.9" fill="#b3c3fb"/>
<circle cx="1163.7" cy="965.6" r="6.9" fill="#b3c3fb"/>
<circle cx="1181.2" cy="956.6" r="6.9" fill="#b3c3fb"/>
<circle cx="1181.2" cy="965.6" r="6.9" fill="#b3c3fb"/>
<defs><linearGradient id="cb" x1="0" y1="1" x2="0" y2="0"><stop offset="0" stop-color="#dee0fa"/><stop offset="1" stop-color="#0048ff"/></linearGradient></defs>
<rect x="1250.3" y="578.4" width="19.3" height="392.7" fill="url(#cb)"/>
<line x1="1250.3" y1="578.4" x2="1250.3" y2="971.1" stroke="#a4a8c8" stroke-width="1.0"/>
<line x1="1269.6" y1="578.4" x2="1269.6" y2="971.1" stroke="#55565e" stroke-width="1.0"/>
<line x1="1249.8" y1="578.4" x2="1270.1" y2="578.4" stroke="#2a3040" stroke-width="1.0"/>
<line x1="1249.8" y1="971.1" x2="1270.1" y2="971.1" stroke="#b8b8c4" stroke-width="1.0"/>
<text x="1276.5" y="591.7" font-size="22" text-anchor="start" fill="#262626" font-weight="normal">10</text>
<text x="1276.5" y="721.7" font-size="22" text-anchor="start" fill="#262626">10<tspan dy="-11.2" font-size="17.8">0</tspan></text>
<text x="1276.5" y="852.6" font-size="22" text-anchor="start" fill="#262626">10<tspan dy="-11.2" dx="0.8" font-size="17.8">-1</tspan></text>
<text x="1276.5" y="983.5" font-size="22" text-anchor="start" fill="#262626">10<tspan dy="-11.2" dx="0.8" font-size="17.8">-2</tspan></text>
<text transform="translate(1341.2,842.41) rotate(-90)" x="0" y="0" font-size="20.69" font-weight="normal" fill="#262626" textLength="132.48" lengthAdjust="spacingAndGlyphs">polyU [mg/ml]</text>
</svg>
</body></html>
